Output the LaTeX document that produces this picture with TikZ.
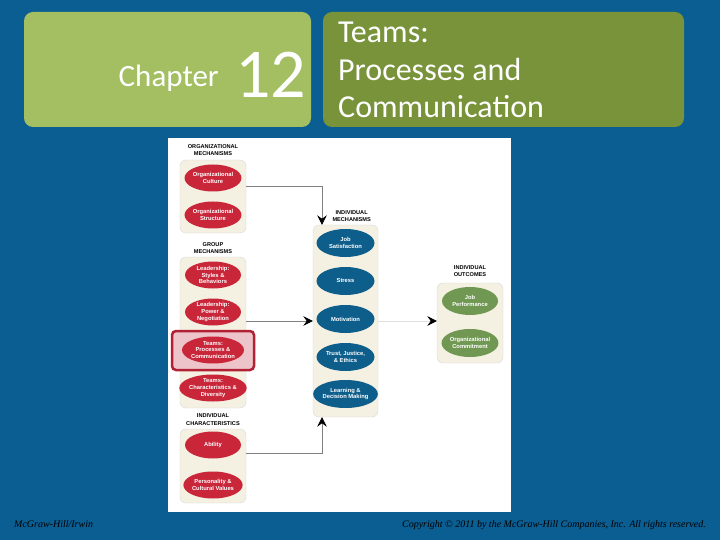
\documentclass[tikz,border=0pt]{standalone}
\usepackage{fontspec}
\setmainfont{Carlito}
\newfontfamily\figfont{Liberation Sans}
\newfontfamily\footfont{Liberation Serif}
\usetikzlibrary{arrows.meta,positioning,shapes.geometric}
\definecolor{SlideBlue}{RGB}{11,94,146}
\definecolor{LightOlive}{RGB}{163,191,98}
\definecolor{DarkOlive}{RGB}{121,147,58}
\definecolor{PanelBeige}{RGB}{244,240,226}
\definecolor{OvalRed}{RGB}{201,38,58}
\definecolor{OvalBlue}{RGB}{14,94,140}
\definecolor{OvalGreen}{RGB}{112,152,82}
\definecolor{HiPink}{RGB}{236,196,202}
\definecolor{HiRed}{RGB}{178,32,52}

\begin{document}
\begin{tikzpicture}[x=1pt, y=-1pt,
	oval/.style={ellipse, minimum width=56pt, minimum height=27pt, inner sep=0pt,
		text=white, align=center, font=\figfont\bfseries\fontsize{5.8}{6.8}\selectfont},
	redoval/.style={oval, fill=OvalRed},
	blueoval/.style={oval, fill=OvalBlue, minimum width=58pt, minimum height=28pt},
	greenoval/.style={oval, fill=OvalGreen, minimum height=28pt},
	panel/.style={draw=black!15, fill=PanelBeige, rounded corners=6pt, minimum width=66pt},
	hdr/.style={align=center, font=\figfont\bfseries\fontsize{5.6}{7.4}\selectfont},
	link/.style={draw=black!50, line width=0.6pt},
	tip/.style={-{Stealth[length=9.5pt, width=9.5pt, inset=3.5pt, black]}},
	title/.style={anchor=base west, text=white, inner sep=0pt, font=\fontsize{32}{36}\selectfont}
	]
	% slide
	\fill[SlideBlue] (0,0) rectangle (720,540);
	\useasboundingbox (0,0) rectangle (720,540);
	\fill[LightOlive, rounded corners=9pt] (24,12) rectangle (311,127);
	\fill[DarkOlive, rounded corners=9pt] (323,12) rectangle (684,127);
	
	\node[anchor=base east, text=white, font=\fontsize{31}{34}\selectfont, inner sep=0pt] (chap) at (219,87) {Chapter};
	\node[anchor=base west, text=white, font=\fontsize{70}{70}\selectfont, inner sep=0pt] (num) at (235,98) {12};
	\node[title] (tl1) at (338,43) {Teams:};
	\node[title] (tl2) at (338,81) {Processes and};
	\node[title] (tl3) at (338,118) {Communication};
	
	\fill[white] (168,138) rectangle (511,512);
	
	% left column
	\node[hdr] (orgH) at (213,150) {ORGANIZATIONAL\\MECHANISMS};
	\node[panel, minimum height=73pt] (orgP) at (213,196.5) {};
	\node[redoval] (culture) at (213,178) {Organizational\\Culture};
	\node[redoval] (structure) at (213,215) {Organizational\\Structure};
	
	\node[hdr] (grpH) at (213,248) {GROUP\\MECHANISMS};
	\node[panel, minimum height=151pt] (grpP) at (213,332.5) {};
	\draw[HiRed, fill=HiPink, line width=2.5pt, rounded corners=4pt] (172,331) rectangle (254,370);
	\node[redoval] (styles) at (213,275) {Leadership:\\Styles \&\\Behaviors};
	\node[redoval] (power) at (213,312) {Leadership:\\Power \&\\Negotiation};
	\node[redoval] (process) at (213,350) {Teams:\\Processes \&\\Communication};
	\node[redoval] (divers) at (213,388) {Teams:\\Characteristics \&\\Diversity};
	
	\node[hdr] (indH) at (213,419.5) {INDIVIDUAL\\CHARACTERISTICS};
	\node[panel, minimum height=74pt] (indP) at (213,466) {};
	\node[redoval] (ability) at (213,445) {Ability};
	\node[redoval] (person) at (213,485) {Personality \&\\Cultural Values};
	
	% middle column
	\node[hdr, anchor=west] (mechH) at (329,216) {INDIVIDUAL\\MECHANISMS};
	\node[panel, minimum width=65pt, minimum height=192pt] (midP) at (345.5,321) {};
	\node[blueoval] (jobsat) at (345.5,243) {Job\\Satisfaction};
	\node[blueoval] (stress) at (345.5,281) {Stress};
	\node[blueoval] (motiv) at (345.5,319) {Motivation};
	\node[blueoval] (trust) at (345.5,357) {Trust, Justice,\\\& Ethics};
	\node[blueoval] (learn) at (345.5,394) {Learning \&\\Decision Making};
	
	% right column
	\node[hdr] (outH) at (470,271) {INDIVIDUAL\\OUTCOMES};
	\node[panel, minimum height=80pt] (outP) at (470,323) {};
	\node[greenoval] (jobperf) at (470,301) {Job\\Performance};
	\node[greenoval] (commit) at (470,343) {Organizational\\Commitment};
	
	% connectors
	\draw[link, tip] ([yshift=10.5pt]orgP.east) -| ([xshift=-23.5pt]midP.north);
	\draw[link, tip] (grpP.east |- midP.west) -- (midP.west);
	\draw[link, tip] ([yshift=13pt]indP.east) -| ([xshift=-23.5pt]midP.south);
	\draw[draw=black!12, line width=0.5pt, tip] (midP.east) -- (midP.east -| outP.west);
	
	% footer
	\node[anchor=base west, font=\footfont\itshape\fontsize{10}{11}\selectfont, inner sep=0pt] (pub) at (14,527) {McGraw-Hill/Irwin};
	\node[anchor=base east, font=\footfont\itshape\fontsize{10}{11}\selectfont, inner sep=0pt] (copy) at (706,527) {Copyright \textcopyright{} 2011 by the McGraw-Hill Companies, Inc. All rights reserved.};
\end{tikzpicture}
\end{document}
